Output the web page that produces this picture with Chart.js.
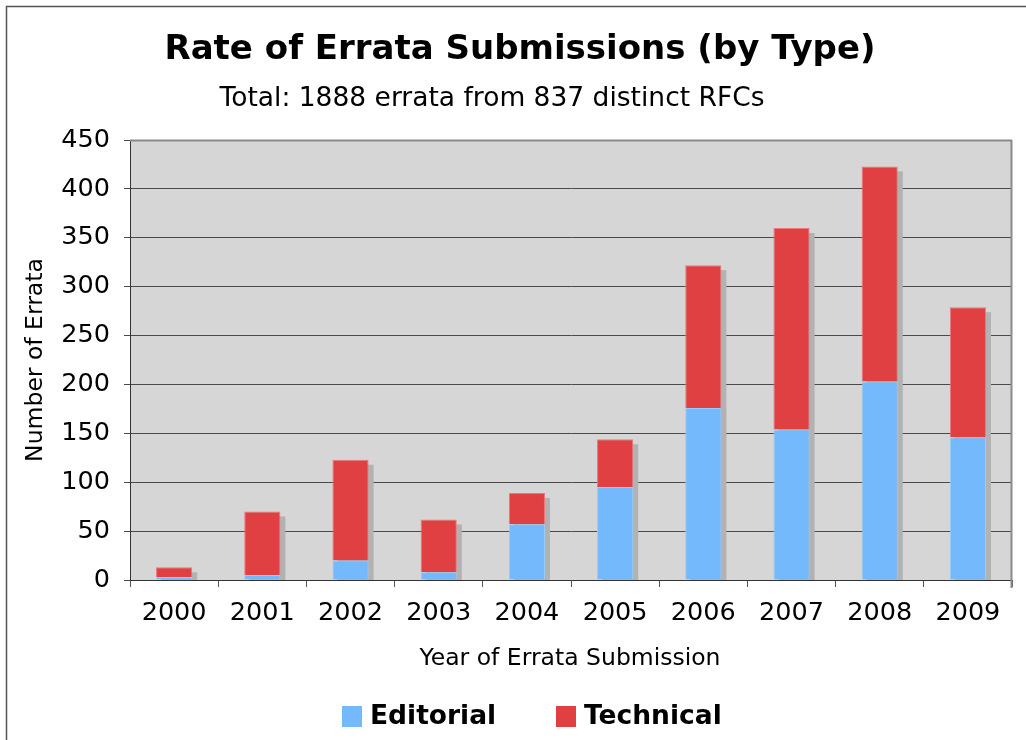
<!DOCTYPE html>
<html>
<head>
<meta charset="utf-8">
<script src="https://cdn.jsdelivr.net/npm/chart.js@4/dist/chart.umd.min.js"></script>
<style>
  html, body { margin: 0; padding: 0; background: #ffffff; }
  #wrap { width: 1026px; height: 740px; position: relative; }
</style>
</head>
<body>
<div id="wrap"><canvas id="c" width="1026" height="740"></canvas></div>
<script>
const years = ["2000","2001","2002","2003","2004","2005","2006","2007","2008","2009"];
const editorial = [3, 5, 20, 8, 57, 95, 176, 154, 203, 146];
const technical = [10, 65, 103, 54, 32, 49, 146, 206, 220, 133];
const yTicks = [0, 50, 100, 150, 200, 250, 300, 350, 400, 450];
const titleText = "Rate of Errata Submissions (by Type)";
const subtitleText = "Total: 1888 errata from 837 distinct RFCs";
const xTitle = "Year of Errata Submission";
const yTitle = "Number of Errata";
const seriesNames = ["Editorial", "Technical"];

const BLUE = "rgb(116,185,251)";
const RED = "rgb(224,64,65)";
const FONT = "'DejaVu Sans', Verdana, sans-serif";

const decor = {
  id: "decor",
  beforeDraw(chart) {
    const {ctx, chartArea: a} = chart;
    ctx.save();
    ctx.fillStyle = "#ffffff";
    ctx.fillRect(0, 0, chart.width, chart.height);
    ctx.strokeStyle = "#555";
    ctx.lineWidth = 1.5;
    ctx.strokeRect(6.5, 6.5, 1040, 780);
    ctx.fillStyle = "#d6d6d6";
    ctx.fillRect(a.left, a.top, a.right - a.left, a.bottom - a.top);
    ctx.restore();
  },
  beforeDatasetsDraw(chart) {
    const {ctx} = chart;
    const top = chart.getDatasetMeta(1);
    const base = chart.scales.y.getPixelForValue(0);
    ctx.save();
    ctx.fillStyle = "#b2b2b2";
    top.data.forEach(el => {
      const w = el.width;
      const x0 = el.x - w / 2 + 5;
      const y0 = el.y + 5;
      ctx.fillRect(x0, y0, w, base - y0);
    });
    ctx.restore();
  },
  afterDatasetsDraw(chart) {
    const {ctx, chartArea: a} = chart;
    ctx.save();
    ctx.strokeStyle = "#8a8a8a";
    ctx.lineWidth = 2;
    ctx.beginPath();
    ctx.moveTo(a.left, a.top + 0.5);
    ctx.lineTo(a.right, a.top + 0.5);
    ctx.moveTo(a.right - 0.5, a.top);
    ctx.lineTo(a.right - 0.5, a.bottom + 8);
    ctx.stroke();
    ctx.restore();
  },
  afterDraw(chart) {
    const {ctx} = chart;
    ctx.save();
    ctx.fillStyle = "#000";
    ctx.textAlign = "center";
    ctx.textBaseline = "middle";
    ctx.font = "bold 34px " + FONT;
    ctx.fillText(titleText, 520, 50);
    ctx.font = "26.5px " + FONT;
    ctx.fillText(subtitleText, 492, 99);
    ctx.font = "23.5px " + FONT;
    ctx.fillText(xTitle, 570, 659);
    ctx.save();
    ctx.translate(36, 360);
    ctx.rotate(-Math.PI / 2);
    ctx.fillText(yTitle, 0, 0);
    ctx.restore();
    // legend
    ctx.textAlign = "left";
    ctx.font = "bold 26.5px " + FONT;
    const cols = [BLUE, RED];
    const xs = [342, 556];
    for (let i = 0; i < 2; i++) {
      ctx.fillStyle = cols[i];
      ctx.fillRect(xs[i], 706, 20, 21);
      ctx.fillStyle = "#000";
      ctx.fillText(seriesNames[i], xs[i] + 28, 717);
    }
    ctx.restore();
  }
};

new Chart(document.getElementById("c"), {
  type: "bar",
  data: {
    labels: years,
    datasets: [
      { label: seriesNames[0], data: editorial, backgroundColor: BLUE,
        borderColor: "rgb(150,205,252)", borderWidth: 1 },
      { label: seriesNames[1], data: technical, backgroundColor: RED,
        borderColor: "rgb(236,120,120)", borderWidth: 1 }
    ]
  },
  options: {
    responsive: false,
    animation: false,
    devicePixelRatio: 1,
    layout: { padding: { top: 140, right: 14, bottom: 100, left: 0 } },
    plugins: { legend: { display: false }, title: { display: false }, tooltip: { enabled: false } },
    datasets: { bar: { categoryPercentage: 1.0, barPercentage: 0.41 } },
    scales: {
      x: {
        stacked: true,
        offset: true,
        grid: { display: true, drawOnChartArea: false, drawTicks: true, tickLength: 7, color: "#555", offset: true },
        border: { display: true, color: "#333", width: 1 },
        ticks: { color: "#000", font: { family: FONT, size: 25.5 }, padding: 11, maxRotation: 0 },
        afterFit(s) { s.height = 60; }
      },
      y: {
        stacked: true,
        min: 0, max: 450,
        afterBuildTicks(s) { s.ticks = yTicks.map(v => ({ value: v })); },
        grid: { color: "#4a4a4a", lineWidth: 1, drawTicks: true, tickLength: 6 },
        border: { display: true, color: "#333", width: 1 },
        ticks: { color: "#000", font: { family: FONT, size: 25.5 }, padding: 14 },
        afterFit(s) { s.width = 130; }
      }
    }
  },
  plugins: [decor]
});
</script>
</body>
</html>
